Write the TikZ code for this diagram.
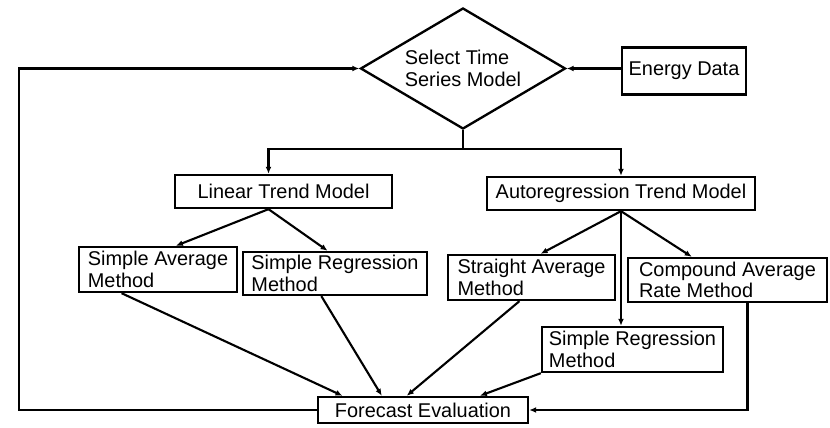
\documentclass[tikz,border=0pt]{standalone}
\usepackage{fontspec}
\setmainfont{Liberation Sans}
\usetikzlibrary{arrows.meta,shapes.geometric,calc}

\begin{document}
\begin{tikzpicture}[x=1cm,y=1cm,
  procbox/.style={draw,line width=2pt,inner sep=0pt,align=left,
    font=\fontsize{17}{18.5}\selectfont},
  flow/.style={line width=1.8pt,-{Latex[length=6pt,width=5pt]}},
  plain/.style={line width=1.8pt}]
\useasboundingbox (0,0) rectangle (24.9,12.84);
% decision and input
\node[procbox,diamond,aspect=1.7,minimum width=6.15cm,minimum height=3.63cm] (select) at (13.89,10.785) {Select Time\\Series Model};
\node[procbox,minimum width=3.72cm,minimum height=1.41cm] (energy) at (20.52,10.71) {Energy Data};
% trend models
\node[procbox,minimum width=6.51cm,minimum height=0.99cm] (linear) at (8.505,7.095) {Linear Trend Model};
\node[procbox,minimum width=8.04cm,minimum height=0.99cm] (autoreg) at (18.63,7.035) {Autoregression Trend Model};
% methods
\node[procbox,minimum width=4.74cm,minimum height=1.35cm] (savg) at (4.74,4.755) {Simple Average\\Method};
\node[procbox,minimum width=5.52cm,minimum height=1.29cm] (sreg) at (10.05,4.635) {Simple Regression\\Method};
\node[procbox,minimum width=5.01cm,minimum height=1.35cm] (stavg) at (15.945,4.515) {Straight Average\\Method};
\node[procbox,minimum width=5.97cm,minimum height=1.32cm] (cavg) at (21.825,4.44) {Compound Average\\Rate Method};
\node[procbox,minimum width=5.43cm,minimum height=1.35cm] (sreg2) at (18.975,2.355) {Simple Regression\\Method};
% evaluation
\node[procbox,minimum width=6.3cm,minimum height=0.78cm] (forecast) at (12.69,0.54) {Forecast Evaluation};

\coordinate (loop) at (0.57,0);
\coordinate (split) at ($(select.south)+(0,-0.57)$);
\coordinate (lin-in) at ([xshift=-0.45cm]linear.north);
\coordinate (lin-out) at ([xshift=-0.45cm]linear.south);

\draw[flow] (energy.west |- select.east) -- (select.east);
\draw[plain] (select.south) -- (split);
\draw[flow] (split) -| (lin-in);
\draw[flow] (split) -| (autoreg.north);

\draw[flow] (lin-out) -- (savg.53);
\draw[flow] (lin-out) -- (sreg.108);
\draw[flow] (autoreg.south) -- (stavg.69);
\draw[flow] (autoreg.south) -- (cavg.147.5);
\draw[flow] (autoreg.south) -- (autoreg.south |- sreg2.north);

\draw[flow] (savg.213) -- (forecast.170.5);
\draw[flow] (sreg.239) -- (forecast.161);
\draw[flow] (stavg.243) -- (forecast.139);
\draw[flow] (sreg2.south west) -- (forecast.14.6);
\draw[flow] ([xshift=0.6cm]cavg.south) |- (forecast.east);

\draw[flow] (forecast.west) -- (forecast.west -| loop) |- (select.west);
\end{tikzpicture}
\end{document}
